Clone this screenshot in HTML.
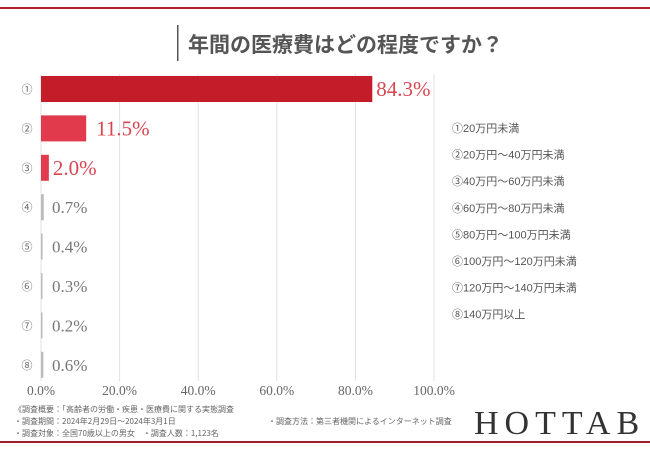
<!DOCTYPE html>
<html><head><meta charset="utf-8"><style>
body{margin:0;background:#fff;width:650px;height:450px;overflow:hidden;font-family:"Liberation Sans","Noto Sans CJK JP",sans-serif}
</style></head><body>
<svg width="650" height="450" xmlns="http://www.w3.org/2000/svg">
<rect x="0" y="7" width="650" height="2" fill="#b0202c"/>
<rect x="0" y="441" width="650" height="2" fill="#a01c28"/>
<rect x="177" y="25" width="1.5" height="36" fill="#555"/>
<text x="188" y="52" font-size="21" font-weight="bold" fill="#555" font-family="Noto Sans CJK JP,sans-serif">年間の医療費はどの程度ですか？</text>
<g id="grid"></g><g id="bars"></g><g id="ticks"></g><g id="legend"></g>
<g font-family="Noto Sans CJK JP,sans-serif" font-size="8" fill="#666">
<text x="14" y="412">《調査概要：「高齢者の労働・疾患・医療費に関する実態調査</text>
<text x="14" y="424">・調査期間：2024年2月29日〜2024年3月1日</text>
<text x="14" y="436">・調査対象：全国70歳以上の男女　・調査人数：1,123名</text>
<text x="268" y="424">・調査方法：第三者機関によるインターネット調査</text>
</g>
<text x="474" y="434" font-family="Liberation Serif,serif" font-size="34" letter-spacing="6" fill="#333">HOTTAB</text>
</svg>
<script>
const categories=['①','②','③','④','⑤','⑥','⑦','⑧'];
const values=[84.3,11.5,2.0,0.7,0.4,0.3,0.2,0.6];
const valueLabels=['84.3%','11.5%','2.0%','0.7%','0.4%','0.3%','0.2%','0.6%'];
const tickValues=[0,20,40,60,80,100];
const tickLabels=['0.0%','20.0%','40.0%','60.0%','80.0%','100.0%'];
const legendLabels=['①20万円未満','②20万円～40万円未満','③40万円～60万円未満','④60万円～80万円未満','⑤80万円～100万円未満','⑥100万円～120万円未満','⑦120万円～140万円未満','⑧140万円以上'];
const NS='http://www.w3.org/2000/svg';
const x=v=>41+v*3.93;
const y=i=>89+i*39.4;
function mk(t,a,p){const e=document.createElementNS(NS,t);for(const k in a)e.setAttribute(k,a[k]);p.appendChild(e);return e;}
const G=document.getElementById('grid'),B=document.getElementById('bars'),T=document.getElementById('ticks'),L=document.getElementById('legend');
tickValues.forEach((v,i)=>{
 const l=mk('line',{x1:x(v),x2:x(v),y1:74,y2:381,stroke:'#e0e0e0','stroke-width':1},G);
 
 
 const t=mk('text',{x:x(v),y:395,'text-anchor':'middle','font-size':13.5,fill:'#666','font-family':'Liberation Serif,serif'},T);
 t.textContent=tickLabels[i];
 
 
});
categories.forEach((c,i)=>{
 const cy=y(i);
 const cl=mk('text',{x:27,y:cy+4,'text-anchor':'middle','font-size':11,fill:'#666'},B);
 cl.textContent=c;
 
 
 const top=i<3;
 const col=i==0?'#c41c28':(top?'#e03a4c':'#bbb');
 const w=Math.max(x(values[i])-41,1.5);
 const r=mk('rect',{x:41,y:cy-13,width:w,height:26,fill:col},B);
 
 
 const lx=Math.max(x(values[i])+(i==1?10:4),52);
 const vt=mk('text',{x:lx,y:cy+(top?7:6),'font-size':top?21:17,fill:top?'#d9454f':'#777','font-family':'Liberation Serif,serif'},B);
 vt.textContent=valueLabels[i];
 
 
});
legendLabels.forEach((s,i)=>{
 const t=mk('text',{x:452,y:132+i*26.6,'font-size':11,fill:'#555'},L);
 t.textContent=s;
 
 
});
</script>
</body></html>
